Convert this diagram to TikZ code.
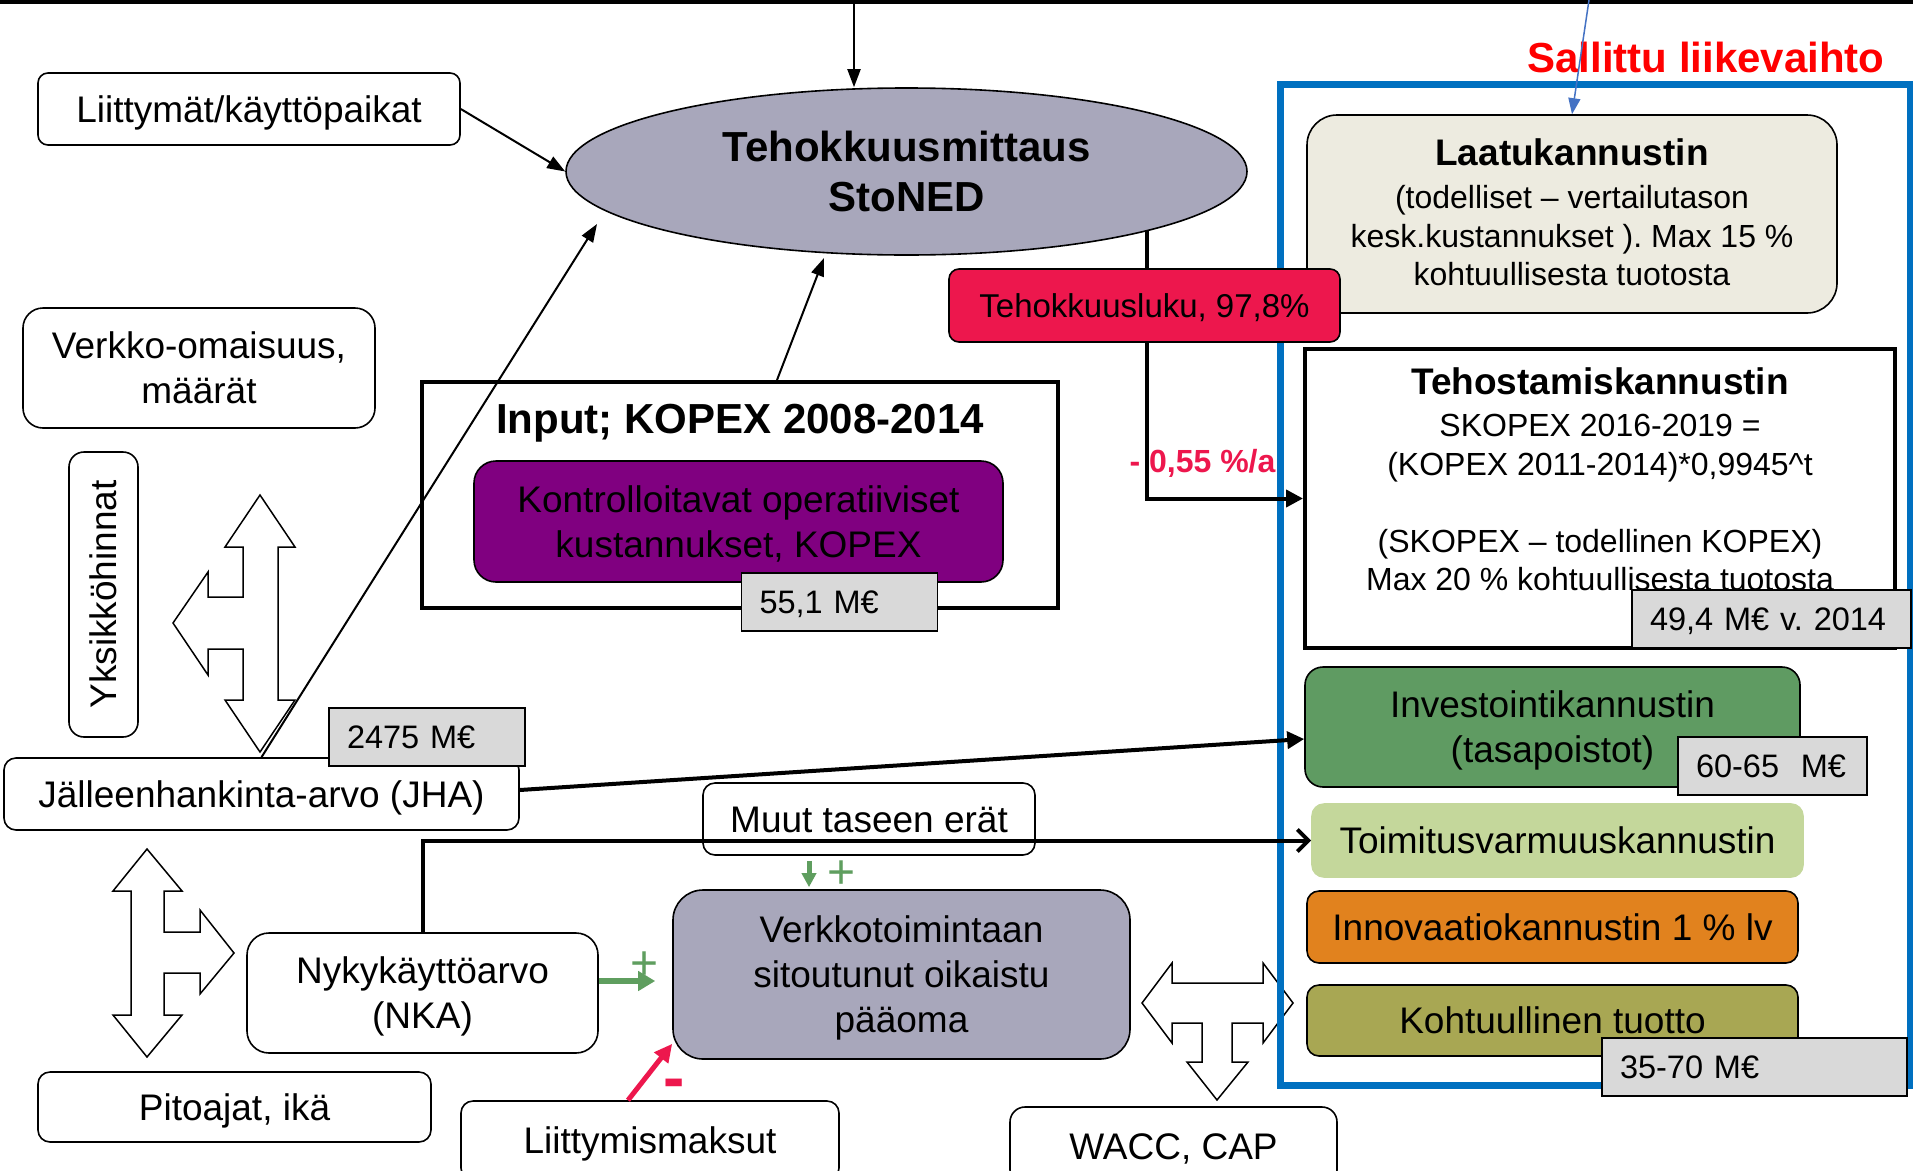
\documentclass[tikz,border=0pt]{standalone}
\usepackage{fontspec}
\setmainfont{Liberation Sans}
\usetikzlibrary{arrows.meta,shapes.geometric}
\definecolor{ellfill}{RGB}{168,167,187}
\definecolor{kpurple}{RGB}{128,0,128}
\definecolor{tred}{RGB}{237,23,77}
\definecolor{laatuf}{RGB}{237,235,224}
\definecolor{invg}{RGB}{95,155,98}
\definecolor{toimg}{RGB}{196,215,155}
\definecolor{innovo}{RGB}{225,130,30}
\definecolor{kohto}{RGB}{168,167,83}
\definecolor{valg}{RGB}{217,217,217}
\definecolor{frameblue}{RGB}{0,112,192}
\definecolor{thinblue}{RGB}{68,114,196}
\definecolor{agreen}{RGB}{95,158,95}
\definecolor{sred}{RGB}{255,0,0}
\newcommand\myfont[2]{\fontsize{#1}{#2}\selectfont\lineskiplimit=-1000pt\relax}
\newcommand\cst{\rule[-0.4em]{0pt}{1.52em}}
\frenchspacing
\begin{document}
\frenchspacing
\begin{tikzpicture}[x=1pt,y=-1pt,
  cs/.style={execute at begin node=\cst, execute at end node=\cst},
  box/.style={draw=black, line width=1.6pt, rounded corners=#1, fill=white, font=\myfont{37}{45}, align=center, inner sep=0pt, cs},
  box/.default=12pt,
  valbox/.style={draw=black, line width=1.2pt, fill=valg, font=\myfont{32.5}{39}, align=left, inner xsep=18pt, inner ysep=0pt, minimum height=58pt, cs},
  barrow/.style={draw=black, fill=white, line width=1.5pt, line join=miter},
  thinarr/.style={line width=2pt, -{Triangle[length=18pt,width=13pt]}},
  thickarr/.style={line width=4pt, -{Triangle[length=17pt,width=17pt]}},
  barbarr/.style={line width=4pt, -{Straight Barb[length=11pt,width=22pt]}},
  garrA/.style={draw=agreen, line width=5pt, -{Triangle[length=14pt,width=14pt]}},
  garrB/.style={draw=agreen, line width=6pt, -{Triangle[length=17pt,width=19pt]}},
  rarr/.style={draw=tred, line width=5pt, -{Triangle[length=18pt,width=17pt]}},
  bluearr/.style={draw=thinblue, line width=1.5pt, -{Triangle[length=16pt,width=12pt]}}
]
\useasboundingbox (0,0) rectangle (1913,1170);
\clip (0,0) rectangle (1913,1170);
\fill[white] (0,0) rectangle (1913,1170);

% top bar
\draw[line width=4pt] (0,1.5) -- (1913,1.5);

% block arrows
\draw[barrow] (260,495) -- (295,547) -- (278,547) -- (278,700) -- (295,700) -- (260,752) -- (225,700) -- (243,700) -- (243,649) -- (208,649) -- (208,675) -- (173,623) -- (208,572) -- (208,597) -- (243,597) -- (243,547) -- (225,547) -- cycle;
\draw[barrow] (147,849) -- (182,891) -- (164,891) -- (164,932) -- (200,932) -- (200,910) -- (234,953) -- (200,994) -- (200,973) -- (164,973) -- (164,1015) -- (182,1015) -- (147,1057) -- (113,1015) -- (131,1015) -- (131,891) -- (113,891) -- cycle;
\draw[barrow] (1142,1003) -- (1172,963) -- (1172,983) -- (1263,983) -- (1263,963) -- (1293,1003) -- (1263,1043) -- (1263,1023) -- (1232,1023) -- (1232,1062) -- (1248,1062) -- (1217,1100) -- (1187,1062) -- (1202,1062) -- (1202,1023) -- (1172,1023) -- (1172,1043) -- cycle;

% blue frame
\draw[frameblue, line width=7pt] (1280,84) rectangle (1910,1085);

% nodes
\node[box=10pt, minimum width=422pt, minimum height=72pt] (lk) at (249,109) {Liittymät/käyttöpaikat};
\node[ellipse, draw=black, line width=1.6pt, fill=ellfill, minimum width=681pt, minimum height=167pt, inner sep=0pt, font=\myfont{42}{50}\bfseries, align=center, cs] (ell) at (906.5,171.5) {\cst Tehokkuusmittaus\\StoNED};
\node[box=20pt, minimum width=352pt, minimum height=120pt] (vo) at (199,368) {\cst Verkko-omaisuus,\\määrät};
\node[box=15pt, minimum width=285pt, minimum height=69pt, rotate=90] (yk) at (103.5,594.5) {Yksikköhinnat};
\node[draw=black, line width=4pt, minimum width=636pt, minimum height=226pt, inner sep=0pt] (inp) at (740,495) {};
\node[font=\myfont{42}{50}\bfseries, inner sep=0pt, cs] (inpt) at (740,418) {Input; KOPEX 2008-2014};
\node[box=22pt, fill=kpurple, minimum width=529pt, minimum height=121pt] (kop) at (738.5,521.5) {\cst Kontrolloitavat operatiiviset\\kustannukset, KOPEX};
\node[box=12pt, minimum width=515pt, minimum height=72pt] (jha) at (261.5,794) {Jälleenhankinta-arvo (JHA)};
\node[box=12pt, minimum width=332pt, minimum height=72pt] (muut) at (869,819) {Muut taseen erät};
\node[box=22pt, minimum width=351pt, minimum height=120pt] (nka) at (422.5,993) {\cst Nykykäyttöarvo\\(NKA)};
\node[box=12pt, minimum width=393pt, minimum height=70pt] (pito) at (234.5,1107) {Pitoajat, ikä};
\node[box=12pt, minimum width=378pt, minimum height=79pt] (lmaks) at (650,1140.5) {Liittymismaksut};
\node[box=15pt, minimum width=327pt, minimum height=78pt] (wacc) at (1173.5,1146) {WACC, CAP};
\node[box=30pt, fill=ellfill, minimum width=457pt, minimum height=169pt] (verk) at (901.5,974.5) {\cst Verkkotoimintaan\\sitoutunut oikaistu\\pääoma};
\node[box=30pt, fill=laatuf, minimum width=530pt, minimum height=198pt, font=\myfont{32}{38.5}] (laatu) at (1572,214) {\cst{\myfont{37}{43}\bfseries Laatukannustin}\\[4.5pt](todelliset – vertailutason\\kesk.kustannukset ). Max 15 \%\\kohtuullisesta tuotosta};
\node[draw=black, line width=4pt, fill=white, minimum width=590pt, minimum height=299pt, inner sep=0pt] (tehos) at (1600,498.5) {};
\node[align=center, font=\myfont{32}{38.5}, inner sep=0pt, cs] (tehost) at (1600,481) {\cst{\myfont{37}{43}\bfseries Tehostamiskannustin}\\[4pt]SKOPEX 2016-2019 =\\(KOPEX 2011-2014)*0,9945\^{}t\\[38.5pt](SKOPEX – todellinen KOPEX)\\Max 20 \% kohtuullisesta tuotosta};
\node[box=18pt, fill=invg, minimum width=495pt, minimum height=120pt] (inv) at (1552.5,727) {\cst Investointikannustin\\(tasapoistot)};
\node[box=12pt, fill=toimg, draw=toimg, minimum width=491pt, minimum height=73pt] (toim) at (1557.5,840.5) {Toimitusvarmuuskannustin};
\node[box=12pt, fill=innovo, minimum width=491pt, minimum height=72pt] (innov) at (1552.5,927) {Innovaatiokannustin 1 \% lv};
\node[box=12pt, fill=kohto, minimum width=491pt, minimum height=71pt] (koht) at (1552.5,1020.5) {Kohtuullinen tuotto};

% connectors
\coordinate (topin) at (854,0);
\coordinate (ellA) at (597,224);
\coordinate (ellB) at (824,258);
\coordinate (bluetop) at (1589,0);
\draw[thinarr] (topin) -- (topin |- ell.north);
\draw[thinarr] (lk.east) -- (ell.west);
\draw[thinarr] (jha.north) -- (ellA);
\draw[thinarr] ([xshift=37pt]inp.north) -- (ellB);
\draw[thickarr] (ell.-14) |- (tehos.west);
\draw[thickarr] ([yshift=4pt]jha.east) -- ([yshift=-12pt]inv.west);
\draw[barbarr] (nka.north) |- (toim.west);
\draw[garrA, shorten <=5pt, shorten >=2pt] ([xshift=-60pt]muut.south) -- ([xshift=-60pt]muut.south |- verk.north);
\draw[garrB, shorten >=17pt] ([yshift=12pt]nka.east) -- ([yshift=12pt]nka.east -| verk.west);
\draw[rarr] ([xshift=-22pt]lmaks.north) -- ([yshift=16pt]verk.south west);

% boxes on top
\node[box=10pt, fill=tred, minimum width=391pt, minimum height=73pt, font=\myfont{33}{40}] (tl) at (1144.5,305.5) {Tehokkuusluku, 97,8\%};
\node[valbox, text width=160pt] (v551) at (839.5,602) {55,1 M€};
\node[valbox, text width=160pt] (v2475) at (427,737) {2475 M€};
\node[valbox, text width=153pt] (v6065) at (1772.5,766) {60-65\ \ M€};
\node[valbox, text width=243pt] (v494) at (1771.5,619) {49,4 M€ v. 2014};
\node[valbox, text width=269pt] (v3570) at (1754.5,1067) {35-70 M€};

% texts
\node[text=sred, font=\myfont{42}{50}\bfseries, inner sep=0pt] (sal) at (1706,57) {Sallittu liikevaihto};
\node[text=tred, font=\myfont{32}{38}\bfseries, inner sep=0pt] (pct) at (1202.5,463) {- 0,55 \%/a};
\node[text=agreen, font=\myfont{48}{50}, inner sep=0pt] (plusA) at (842,875) {+};
\node[text=agreen, font=\myfont{48}{50}, inner sep=0pt] (plusB) at (645,966) {+};
\node[text=tred, font=\myfont{64}{70}\bfseries, inner sep=0pt] (minus) at (674,1089) {-};

\draw[bluearr] (bluetop) -- (laatu.north);
\end{tikzpicture}
\end{document}
